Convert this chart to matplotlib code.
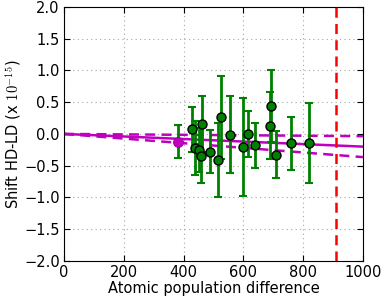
import numpy as np
import matplotlib
matplotlib.use('Agg')
import matplotlib.pyplot as plt

plt.rcParams['mathtext.fontset'] = 'cm'

# datos (desplazamiento en unidades de 1e-15)
n_diff = [383, 429, 438, 453, 457, 463, 488, 516, 526, 556, 600, 616, 639, 688, 693, 708, 759, 819]
shift = [-0.12, 0.07, -0.22, -0.25, -0.34, 0.16, -0.28, -0.41, 0.26, -0.01, -0.20, 0.00, -0.18, 0.13, 0.44, -0.33, -0.15, -0.15]
shift_err = [0.26, 0.36, 0.42, 0.35, 0.44, 0.44, 0.34, 0.58, 0.66, 0.60, 0.77, 0.36, 0.36, 0.53, 0.57, 0.37, 0.42, 0.63]

# ajuste lineal por el origen
fit_slope = -0.2e-3
fit_slope_err = 0.165e-3
n_limit = 910

fig = plt.figure(figsize=(3.82, 3.02), dpi=100)
ax = fig.add_axes([0.1675, 0.136, 0.7825, 0.841])

xs = np.array([0, 1000])
ax.plot(xs, fit_slope * xs, color='m', lw=1.8, zorder=2)
ax.plot(xs, (fit_slope + fit_slope_err) * xs, color='m', lw=1.8, dashes=(4, 2.5), zorder=2)
ax.plot(xs, (fit_slope - fit_slope_err) * xs, color='m', lw=1.8, dashes=(4, 2.5), zorder=2)

ax.errorbar(n_diff, shift, yerr=shift_err, fmt='o', color='g', ecolor='g',
            mfc='g', mec='k', ms=6.5, elinewidth=2.0, capsize=2.8, capthick=1.5, zorder=3)
# primer punto marcado en magenta
ax.plot(n_diff[0], shift[0], 'o', mfc='m', mec='m', ms=6.5, zorder=4)

ax.axvline(n_limit, color='r', lw=1.8, dashes=(4, 2.5), zorder=2)

ax.set_xlim(0, 1000)
ax.set_ylim(-2.0, 2.0)
ax.set_xticks(np.arange(0, 1001, 200))
ax.set_yticks(np.arange(-2.0, 2.01, 0.5))
ax.grid(True, color='0.65', linestyle=(0, (1, 3)), lw=0.8)
ax.tick_params(direction='in', top=True, right=True, labelsize=10.5, length=4, pad=3)
ax.set_xlabel('Atomic population difference', fontsize=10.5, labelpad=1)
ax.set_ylabel(r'Shift HD-LD (x $10^{-15}$)', fontsize=10.5, labelpad=1)

fig.savefig('out.png', dpi=100)
